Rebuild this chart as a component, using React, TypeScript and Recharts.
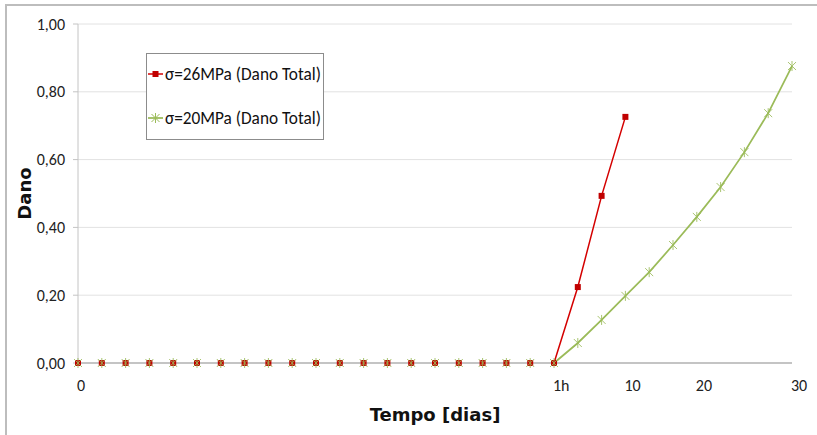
import React from "react";
import {
  LineChart,
  Line,
  XAxis,
  YAxis,
  CartesianGrid,
  Legend,
  Label,
} from "recharts";

const timeIndex = [
  0, 1, 2, 3, 4, 5, 6, 7, 8, 9, 10, 11, 12, 13, 14, 15, 16, 17, 18, 19, 20,
  21, 22, 23, 24, 25, 26, 27, 28, 29, 30,
];

const tickLabels = [
  "0", "", "", "", "", "", "", "", "", "", "", "", "", "", "", "", "", "", "", "",
  "1h", "", "", "10", "", "", "20", "", "", "", "30",
];

const dano26 = [
  0, 0, 0, 0, 0, 0, 0, 0, 0, 0, 0, 0, 0, 0, 0, 0, 0, 0, 0, 0, 0,
  0.224, 0.493, 0.726, null, null, null, null, null, null, null,
];

const dano20 = [
  0, 0, 0, 0, 0, 0, 0, 0, 0, 0, 0, 0, 0, 0, 0, 0, 0, 0, 0, 0, 0,
  0.059, 0.127, 0.198, 0.268, 0.348, 0.431, 0.519, 0.622, 0.737, 0.876,
];

const yTicks = [0, 0.2, 0.4, 0.6, 0.8, 1.0];

const seriesNames = ["σ=26MPa (Dano Total)", "σ=20MPa (Dano Total)"];

const data = timeIndex.map((t, i) => ({
  t,
  s26: dano26[i],
  s20: dano20[i],
}));

const FONT = "Carlito, Lato, 'Liberation Sans', sans-serif";
const TITLE_FONT = "'DejaVu Sans', Verdana, sans-serif";
const RED = "#C00000";
const RED_LINE = "#D40000";
const GREEN = "#9BBB59";

const SquareDot = (props: any) => {
  const { cx, cy, value } = props;
  if (value === null || value === undefined || cx == null || cy == null) return null;
  return <rect x={cx - 3} y={cy - 3} width={6} height={6} fill={RED} />;
};

const StarDot = (props: any) => {
  const { cx, cy, value } = props;
  if (value === null || value === undefined || cx == null || cy == null) return null;
  const r = 4;
  return (
    <g stroke={GREEN} strokeWidth={1} opacity={0.85}>
      <line x1={cx - r} y1={cy - r} x2={cx + r} y2={cy + r} />
      <line x1={cx - r} y1={cy + r} x2={cx + r} y2={cy - r} />
      <line x1={cx} y1={cy - r - 1} x2={cx} y2={cy + r + 1} />
    </g>
  );
};

const XTick = (props: any) => {
  const { x, y, payload } = props;
  const label = tickLabels[payload.value] ?? "";
  if (!label) return null;
  return (
    <text
      x={x - 1}
      y={y + 9}
      textAnchor="start"
      dy="0.71em"
      fontSize={16}
      fontFamily={FONT}
      fill="#222"
    >
      {label}
    </text>
  );
};

const LegendContent = () => (
  <div
    style={{
      width: 178,
      height: 87,
      border: "1px solid #8c8c8c",
      background: "#fff",
      boxSizing: "border-box",
      position: "relative",
    }}
  >
    <svg width={176} height={85} style={{ position: "absolute", left: 0, top: 0 }}>
      <line x1={1} y1={20} x2={16} y2={20} stroke={RED_LINE} strokeWidth={1.5} />
      <rect x={5.5} y={17} width={6} height={6} fill={RED} />
      <line x1={1} y1={64} x2={16} y2={64} stroke={GREEN} strokeWidth={1.75} />
      <g stroke={GREEN} strokeWidth={1}>
        <line x1={4.5} y1={60} x2={12.5} y2={68} />
        <line x1={4.5} y1={68} x2={12.5} y2={60} />
        <line x1={8.5} y1={59} x2={8.5} y2={69} />
      </g>
      <text
        x={18}
        y={20}
        dominantBaseline="central"
        fontFamily={FONT}
        fontSize={17.5}
        textLength={156}
        lengthAdjust="spacingAndGlyphs"
        fill="#111"
      >
        {seriesNames[0]}
      </text>
      <text
        x={18}
        y={64}
        dominantBaseline="central"
        fontFamily={FONT}
        fontSize={17.5}
        textLength={156}
        lengthAdjust="spacingAndGlyphs"
        fill="#111"
      >
        {seriesNames[1]}
      </text>
    </svg>
  </div>
);

const YTitle = (props: any) => {
  const vb = props.viewBox || {};
  const cx = 24;
  const cy = (vb.y ?? 24) + (vb.height ?? 339) / 2;
  return (
    <text
      x={cx}
      y={cy}
      transform={`rotate(-90, ${cx}, ${cy})`}
      textAnchor="middle"
      dominantBaseline="central"
      fontFamily={TITLE_FONT}
      fontWeight="bold"
      fontSize={18}
      fill="#111"
    >
      Dano
    </text>
  );
};

const XTitle = (props: any) => {
  const vb = props.viewBox || {};
  const cx = (vb.x ?? 78) + (vb.width ?? 714) / 2;
  return (
    <text
      x={cx}
      y={414}
      textAnchor="middle"
      dominantBaseline="central"
      fontFamily={TITLE_FONT}
      fontWeight="bold"
      fontSize={18}
      fill="#111"
    >
      Tempo [dias]
    </text>
  );
};

export default function App() {
  return (
    <div
      style={{
        position: "absolute",
        left: 0,
        top: 0,
        width: 817,
        height: 435,
        background: "#fff",
        overflow: "hidden",
      }}
    >
      <div
        style={{
          position: "absolute",
          left: 5,
          top: 4,
          width: 900,
          height: 500,
          borderLeft: "2px solid #bdbdbd",
          borderTop: "2px solid #bdbdbd",
        }}
      />
      <div style={{ position: "absolute", left: 0, top: 0 }}>
        <LineChart
          width={817}
          height={435}
          data={data}
          margin={{ top: 24, right: 25, bottom: 12, left: 18 }}
        >
          <CartesianGrid vertical={false} stroke="#e2e2e2" strokeWidth={1} />
          <XAxis
            dataKey="t"
            type="category"
            interval={0}
            tick={<XTick />}
            tickLine={false}
            axisLine={{ stroke: "#c4c4c4", strokeWidth: 2 }}
            height={60}
          >
            <Label content={<XTitle />} />
          </XAxis>
          <YAxis
            type="number"
            domain={[0, 1]}
            ticks={yTicks}
            width={60}
            tickSize={5}
            tickMargin={8}
            tickFormatter={(v: number) => v.toFixed(2).replace(".", ",")}
            tick={{ fontSize: 16, fontFamily: FONT, fill: "#222" }}
            axisLine={{ stroke: "#c4c4c4", strokeWidth: 1 }}
            tickLine={{ stroke: "#c4c4c4" }}
          >
            <Label content={<YTitle />} />
          </YAxis>
          <Legend
            layout="vertical"
            align="center"
            verticalAlign="middle"
            content={<LegendContent />}
            wrapperStyle={{ position: "absolute", left: 146, top: 53, width: 178, height: 87 }}
          />
          <Line
            dataKey="s26"
            name={seriesNames[0]}
            stroke={RED_LINE}
            strokeWidth={1.5}
            dot={<SquareDot />}
            activeDot={false}
            connectNulls={false}
            isAnimationActive={false}
          />
          <Line
            dataKey="s20"
            name={seriesNames[1]}
            stroke={GREEN}
            strokeWidth={1.75}
            dot={<StarDot />}
            activeDot={false}
            isAnimationActive={false}
          />
        </LineChart>
      </div>
    </div>
  );
}
